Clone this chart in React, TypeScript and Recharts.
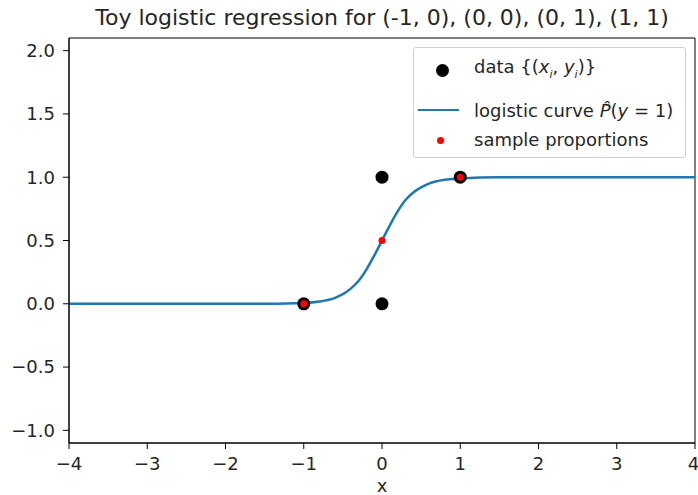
import React from 'react';
import { ComposedChart, Line, Scatter, XAxis, YAxis, ReferenceArea } from 'recharts';

// logistic curve
const curveX = [-4, -3, -2, -1.5, -1, -0.8, -0.6, -0.5, -0.4, -0.3, -0.2, -0.1, 0, 0.1, 0.2, 0.3, 0.4, 0.5, 0.6, 0.8, 1, 1.5, 2, 3, 4];
const curveY = [0, 0, 0, 0.001, 0.007, 0.018, 0.047, 0.076, 0.12, 0.18, 0.27, 0.38, 0.5, 0.62, 0.73, 0.82, 0.88, 0.92, 0.95, 0.98, 0.99, 1, 1, 1, 1];

// observed points
const dataX = [-1, 0, 0, 1];
const dataY = [0, 0, 1, 1];

// sample proportions
const propX = [-1, 0, 1];
const propY = [0, 0.5, 1];

const xTicks = [-4, -3, -2, -1, 0, 1, 2, 3, 4];
const yTicks = [-1, -0.5, 0, 0.5, 1, 1.5, 2];

const curveData = curveX.map((x, i) => ({ x, p: curveY[i] }));
const pointData = dataX.map((x, i) => ({ x, y: dataY[i] }));
const propData = propX.map((x, i) => ({ x, y: propY[i] }));

const FONT = '"DejaVu Sans", sans-serif';
const BLUE = '#1f77b4';
const TEXT = '#262626';

const minus = (s: string) => s.replace('-', '\u2212');

const BlackDot = (props: any) => <circle cx={props.cx} cy={props.cy} r={6.5} fill="#000" />;
const RedDot = (props: any) => <circle cx={props.cx} cy={props.cy} r={3.5} fill="#ff0000" />;

const sub = { fontSize: 11, fontStyle: 'italic' as const };

const LegendBox: React.FC = () => (
    <div
        style={{
            position: 'absolute',
            left: 413,
            top: 47,
            width: 273,
            height: 111,
            boxSizing: 'border-box',
            border: '1px solid #d0d0d0',
            borderRadius: 3,
            background: 'rgba(255,255,255,0.8)',
            fontSize: 18,
            color: TEXT,
        }}
    >
        <div style={{ position: 'absolute', left: 21.5, top: 15.5, width: 13, height: 13, borderRadius: 6.5, background: '#000' }} />
        <div style={{ position: 'absolute', left: 60, top: 9, lineHeight: '20px', whiteSpace: 'nowrap' }}>
            data {'{('}<i>x</i><sub style={sub}>i</sub>, <i>y</i><sub style={sub}>i</sub>{')}'}
        </div>
        <div style={{ position: 'absolute', left: 4, top: 60.5, width: 41, height: 2.5, background: BLUE }} />
        <div style={{ position: 'absolute', left: 60, top: 53, lineHeight: '20px', whiteSpace: 'nowrap' }}>
            logistic curve <i>P&#770;</i>(<i>y</i> = 1)
        </div>
        <div style={{ position: 'absolute', left: 22.5, top: 88.5, width: 7, height: 7, borderRadius: 3.5, background: '#ff0000' }} />
        <div style={{ position: 'absolute', left: 60, top: 82, lineHeight: '20px', whiteSpace: 'nowrap' }}>
            sample proportions
        </div>
    </div>
);

export default function App() {
    return (
        <div style={{ position: 'absolute', left: 0, top: 0, width: 698, height: 495, fontFamily: FONT, background: '#fff' }}>
            <div style={{ position: 'absolute', left: 0, width: 764, top: 6, textAlign: 'center', fontSize: 22, lineHeight: '24px', color: TEXT, whiteSpace: 'nowrap' }}>
                Toy logistic regression for (-1, 0), (0, 0), (0, 1), (1, 1)
            </div>
            <ComposedChart width={698} height={495} margin={{ top: 38, right: 3, bottom: 0, left: 0 }}>
                <XAxis
                    type="number"
                    dataKey="x"
                    domain={[-4, 4]}
                    ticks={xTicks}
                    allowDataOverflow
                    height={52}
                    tickSize={6}
                    tickMargin={8}
                    tick={{ fill: TEXT, fontSize: 18, fontFamily: FONT }}
                    tickFormatter={(v: number) => minus(String(v))}
                    stroke="#000"
                    label={{ value: 'x', position: 'insideBottom', offset: 3, fill: TEXT, fontSize: 18, fontFamily: FONT }}
                />
                <YAxis
                    type="number"
                    domain={[-1.1, 2.1]}
                    ticks={yTicks}
                    allowDataOverflow
                    width={69}
                    tickSize={6}
                    tickMargin={8}
                    tick={{ fill: TEXT, fontSize: 18, fontFamily: FONT }}
                    tickFormatter={(v: number) => minus(v.toFixed(1))}
                    stroke="#000"
                />
                <ReferenceArea x1={-4} x2={4} y1={-1.1} y2={2.1} fill="none" stroke="#000" strokeWidth={1} />
                <Scatter data={pointData} dataKey="y" shape={BlackDot} isAnimationActive={false} />
                <Line data={curveData} dataKey="p" type="monotone" stroke={BLUE} strokeWidth={2.5} dot={false} isAnimationActive={false} />
                <Scatter data={propData} dataKey="y" shape={RedDot} isAnimationActive={false} />
            </ComposedChart>
            <LegendBox />
        </div>
    );
}
